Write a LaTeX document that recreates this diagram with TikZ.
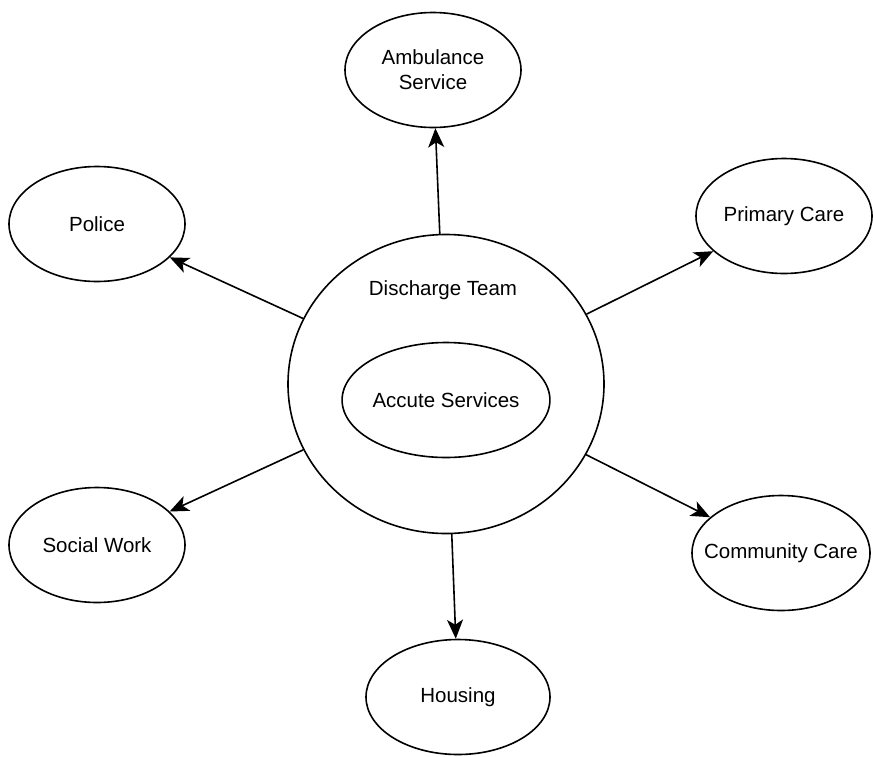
\documentclass[tikz,border=0pt]{standalone}
\usepackage{fontspec}
\setmainfont{Liberation Sans}
\usetikzlibrary{shapes.geometric,arrows.meta}
\begin{document}
\begin{tikzpicture}[x=1pt,y=-1pt,
  ell/.style={draw, ellipse, line width=1.6pt, minimum width=176pt, minimum height=115pt, inner sep=0pt, align=center,
    font=\fontsize{20.5}{25}\selectfont},
  lbl/.style={font=\fontsize{20.5}{25}\selectfont, inner sep=0pt},
  arr/.style={line width=1.6pt, -{Stealth[length=19pt,width=16pt,inset=5pt]}}]
\useasboundingbox (0,0) rectangle (873,756);
\node[ell, minimum width=316pt, minimum height=299pt] (dt) at (446,384) {};
\node[lbl] (dtl) at (443,290) {Discharge Team};
\node[ell] (acc) at (446,400) {Accute Services};
\node[ell] (amb) at (433,70) {Ambulance\\Service};
\node[ell] (pol) at (97,224) {Police};
\node[ell] (pc) at (784,216) {Primary Care};
\node[ell] (sw) at (97,545) {Social Work};
\node[ell, minimum width=178pt] (cc) at (781,553) {\makebox[0pt]{Community Care}};
\node[ell, minimum width=184pt] (hou) at (458,697) {Housing};
\draw[arr] (dt) -- (amb);
\draw[arr] (dt) -- (pol);
\draw[arr] (dt) -- (pc);
\draw[arr] (dt) -- (sw);
\draw[arr] (dt) -- (cc);
\draw[arr] (dt) -- (hou);
\end{tikzpicture}
\end{document}
